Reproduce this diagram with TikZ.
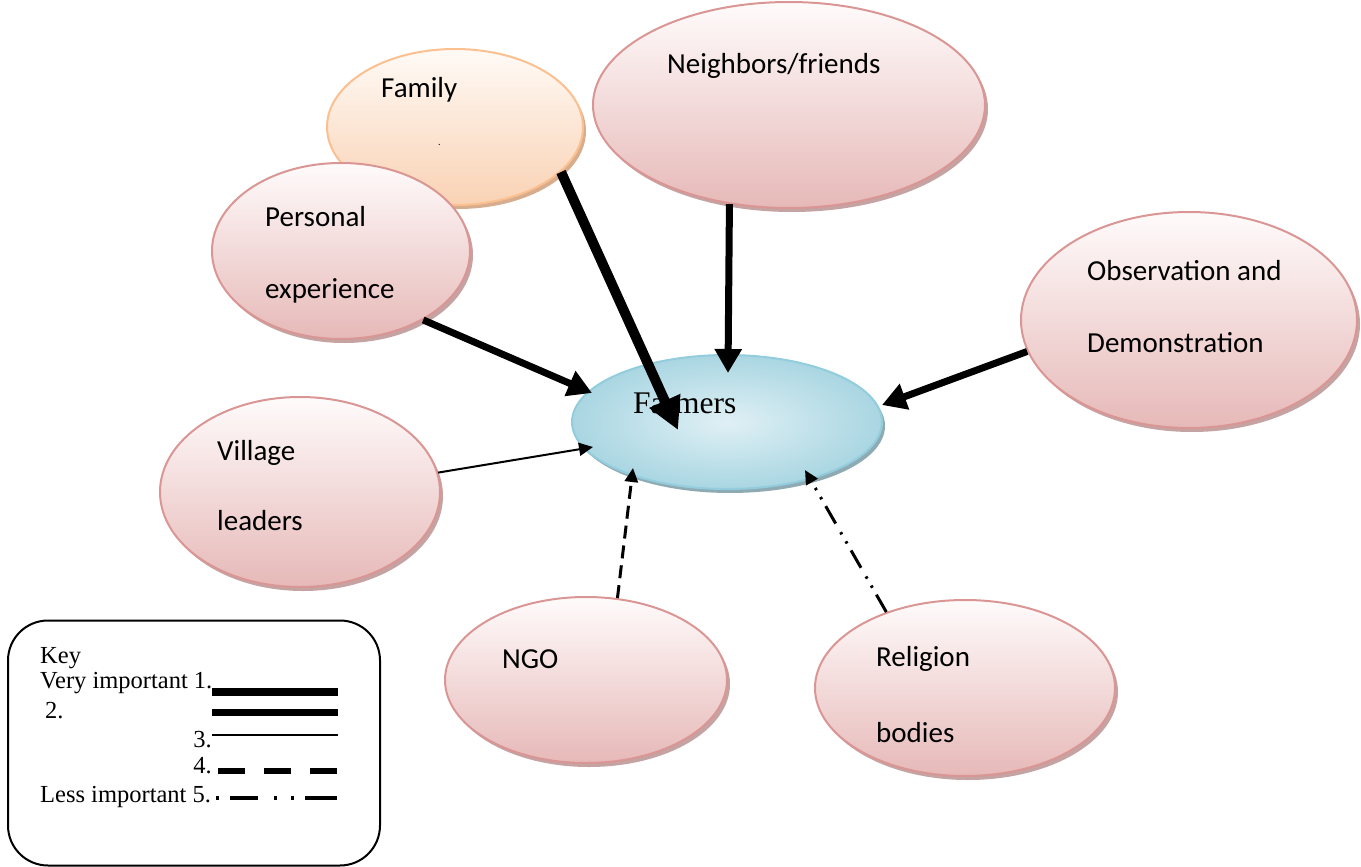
\documentclass[tikz,border=0pt]{standalone}
\usepackage{fontspec}
\setmainfont{Carlito}
\newfontfamily\timesfont{Liberation Serif}
\usetikzlibrary{shapes.geometric, arrows.meta, shadows, calc}

\definecolor{pinkline}{HTML}{D99694}
\definecolor{pinktop}{HTML}{FFFBFB}
\definecolor{pinkbot}{HTML}{E6B9B8}
\definecolor{pinkshade}{HTML}{C4A3A2}
\definecolor{famline}{HTML}{FAC090}
\definecolor{famtop}{HTML}{FFFAF6}
\definecolor{fambot}{HTML}{F9D2B4}
\definecolor{famshade}{HTML}{D8AD8E}
\definecolor{blueline}{HTML}{93CDDD}
\definecolor{bluein}{HTML}{E0F0F5}
\definecolor{blueout}{HTML}{A9D6E2}
\definecolor{blueshade}{HTML}{8EABB4}

\tikzstyle{bubble} = [ellipse, inner sep=0pt, draw=pinkline, line width=2pt, top color=pinktop, bottom color=pinkbot, drop shadow={shadow xshift=3pt, shadow yshift=-4pt, fill=pinkshade, opacity=1}]
\tikzstyle{famblob} = [ellipse, inner sep=0pt, draw=famline, line width=2pt, top color=famtop, bottom color=fambot, drop shadow={shadow xshift=3pt, shadow yshift=-4pt, fill=famshade, opacity=1}]
\tikzstyle{hub} = [ellipse, inner sep=0pt, draw=blueline, line width=2pt, inner color=bluein, outer color=blueout, drop shadow={shadow xshift=3pt, shadow yshift=-4pt, fill=blueshade, opacity=1}]
\tikzstyle{lbl} = [anchor=base west, inner sep=0pt, font=\fontsize{29}{34}\selectfont]
\tikzstyle{keytxt} = [inner sep=0pt, font=\timesfont\fontsize{24.5}{29}\selectfont]
\tikzstyle{imp1} = [line width=10pt, -{Triangle[length=32pt,width=32pt]}]
\tikzstyle{imp2} = [line width=7pt, -{Triangle[length=24pt,width=26pt]}]
\tikzstyle{imp3} = [line width=2pt, -{Triangle[length=14pt,width=13pt]}]
\tikzstyle{imp4} = [line width=3pt, dash pattern=on 13pt off 7pt, -{Triangle[length=14pt,width=13pt]}]
\tikzstyle{imp5} = [line width=3pt, dash pattern=on 20pt off 8pt on 2.5pt off 8pt on 2.5pt off 10pt, -{Triangle[length=14pt,width=13pt]}]

\begin{document}
\begin{tikzpicture}[x=1pt, y=-1pt]
    \useasboundingbox (0,0) rectangle (1361,867);

    % sources of information
    \node (family) [famblob, minimum width=256pt, minimum height=156pt] at (455,127) {};
    \node (neigh) [bubble, minimum width=392pt, minimum height=206pt] at (789,105) {};
    \node (personal) [bubble, minimum width=258pt, minimum height=176pt] at (341,251) {};
    \node (observe) [bubble, minimum width=336pt, minimum height=216pt] at (1189,320) {};
    \node (farmers) [hub, minimum width=310pt, minimum height=134pt] at (727,422) {};
    \node (village) [bubble, minimum width=280pt, minimum height=190pt] at (300,492) {};
    \node (ngo) [bubble, minimum width=282pt, minimum height=166pt] at (586,680) {};
    \node (religion) [bubble, minimum width=300pt, minimum height=176pt] at (965,688) {};

    \node (familytxt) [lbl] at (381,98) {Family};
    \node (familydot) [lbl, font=\fontsize{10}{12}\selectfont] at (438,145) {.};
    \node (neightxt) [lbl] at (667,74) {Neighbors/friends};
    \node (personaltxt) [lbl] at (265,226) {Personal};
    \node (personaltxtb) [lbl] at (265,298) {experience};
    \node (observetxt) [lbl] at (1087,280) {Observation and};
    \node (observetxtb) [lbl] at (1087,352) {Demonstration};
    \node (villagetxt) [lbl] at (217,460) {Village};
    \node (villagetxtb) [lbl] at (217,530) {leaders};
    \node (ngotxt) [lbl] at (502,668) {NGO};
    \node (religiontxt) [lbl] at (876,666) {Religion};
    \node (religiontxtb) [lbl] at (876,742) {bodies};
    \node (farmerstxt) [anchor=base west, inner sep=0pt, font=\timesfont\fontsize{31.5}{37}\selectfont] at (633,413) {Farmers};

    % links
    \draw [imp2] (neigh.-121) -- ($(farmers.center)+(1,-49)$);
    \draw [imp2] (personal.-40) -- ($(farmers.center)+(-135,-29)$);
    \draw [imp2] (observe.-169) -- ($(farmers.center)+(155,-17)$);
    \draw [imp3] (village.8) -- ($(farmers.center)+(-134,25)$);
    \draw [imp4] (ngo.69) -- ($(farmers.center)+(-94,46)$);
    \draw [imp5] (religion.136) -- ($(farmers.center)+(78,48)$);
    \draw [imp1] (family.-23) -- ($(farmers.center)+(-49,8)$);

    % key
    \node (keybox) [draw, line width=2pt, rounded corners=40pt, minimum width=372pt, minimum height=245pt] at (194,743) {};
    \node (k0) [keytxt, anchor=base west] at (40,663) {Key};
    \node (k1) [keytxt, anchor=base west] at (40,688) {Very important 1.};
    \node (k2) [keytxt, anchor=base west] at (45,718) {2.};
    \node (k3) [keytxt, anchor=base east] at (212,747) {3.};
    \node (k4) [keytxt, anchor=base east] at (212,773) {4.};
    \node (k5) [keytxt, anchor=base west] at (40,802) {Less important 5.};
    \draw [line width=8pt] (212,692) -- (338,692);
    \draw [line width=7pt] (212,712) -- (338,712);
    \draw [line width=1.5pt] (212,735) -- (338,735);
    \draw [line width=6pt, dash pattern=on 27pt off 19pt] (218,771) -- (338,771);
    \draw [line width=4pt, dash pattern=on 3pt off 11pt on 28pt off 16pt on 3pt off 14pt on 3pt off 11pt on 40pt off 1pt] (216,798) -- (337,798);
\end{tikzpicture}
\end{document}
